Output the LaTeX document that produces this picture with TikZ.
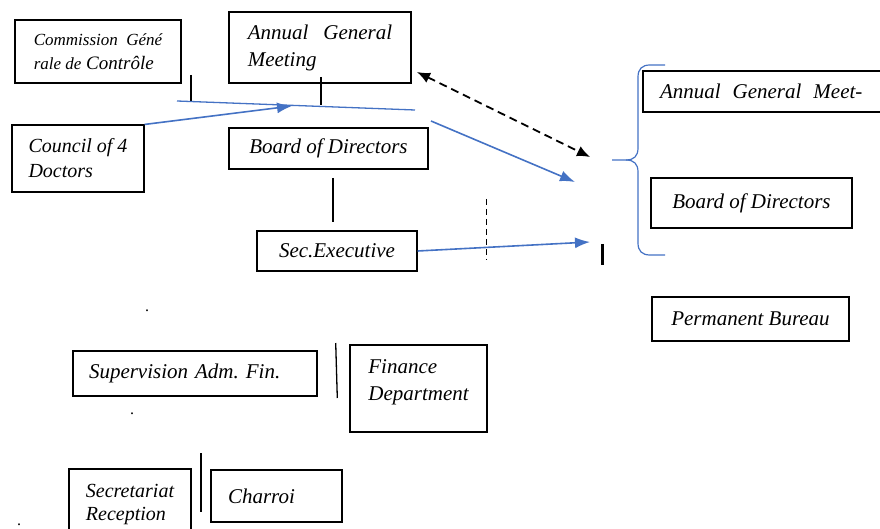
\documentclass[tikz,border=0pt]{standalone}
\usepackage{fontspec}
\setmainfont{Liberation Serif}
\usetikzlibrary{arrows.meta}

\definecolor{linkblue}{RGB}{68,114,196}

\begin{document}
\begin{tikzpicture}[
    x=1pt, y=-1pt,
    box/.style={rectangle, draw, line width=1.1pt, inner sep=0pt, align=left, font=\fontsize{21}{27}\selectfont\itshape},
    flow/.style={-{Latex[length=15pt, width=11pt]}, color=linkblue, line width=1.6pt},
    link/.style={linkblue, line width=1.3pt},
    rule/.style={line width=1.3pt},
    twoway/.style={{Latex[length=13pt, width=11pt]}-{Latex[length=13pt, width=11pt]}, line width=1.8pt, dash pattern=on 8pt off 5pt},
    speck/.style={font=\fontsize{16}{16}\selectfont, inner sep=0pt, anchor=base}
]
    \useasboundingbox (0,0) rectangle (880,529);

    \node[box, minimum width=166, minimum height=63, font=\fontsize{19}{24}\selectfont\itshape] (commission) at (98,51.5) {{\fontsize{17}{24}\selectfont Commission\ \ Géné}\\{\fontsize{17}{24}\selectfont rale de} Contrôle};
    \node[box, minimum width=182, minimum height=71] (agm) at (320,47.5) {Annual\hspace{15pt}General\\Meeting};
    \node[box, minimum width=132, minimum height=67, font=\fontsize{20}{25}\selectfont\itshape] (council) at (78,158.5) {Council of 4\\Doctors};
    \node[box, minimum width=199, minimum height=41] (board) at (328.5,148.5) {Board of Directors};
    \node[box, minimum width=160, minimum height=40] (secexec) at (337,251) {Sec.Executive};
    \node[box, minimum width=242, minimum height=41, inner xsep=17pt, text width=208pt] (agmright) at (764,91.5) {Annual\hspace{12pt}General\hspace{12pt}Meet-};
    \node[box, minimum width=201, minimum height=50] (boardright) at (751.5,203) {Board of Directors};
    \node[box, minimum width=197, minimum height=44] (bureau) at (750.5,319) {Permanent Bureau};
    \node[box, minimum width=244, minimum height=45, inner xsep=16pt, text width=212pt] (supervision) at (195,373.5) {Supervision Adm.\ Fin.};
    \node[box, minimum width=137, minimum height=87] (finance) at (418.5,388.5) {Finance\\Department\\[-10pt]};
    \node[box, minimum width=122, minimum height=71, font=\fontsize{20}{23}\selectfont\itshape] (secretariat) at (130,504.5) {Secretariat\\Reception};
    \node[box, minimum width=131, minimum height=52, inner xsep=17pt, text width=97pt] (charroi) at (276.5,496) {Charroi};

    \node[speck] (dotA) at (147,311) {.};
    \node[speck] (dotB) at (132,414) {.};
    \node[speck] (dotC) at (19,525) {.};

    \coordinate (comTop) at (191,75);
    \coordinate (comFoot) at (191,102);
    \coordinate (agmTop) at (321,77);
    \coordinate (agmFoot) at (321,105);
    \coordinate (linkL) at (177,101);
    \coordinate (linkR) at (415,110);
    \coordinate (councilHead) at (292,106);
    \coordinate (boardTop) at (333,178);
    \coordinate (boardFoot) at (333,222);
    \coordinate (dashA) at (417,72);
    \coordinate (dashB) at (590,157);
    \coordinate (flowA) at (431,121);
    \coordinate (flowB) at (575,182);
    \coordinate (secHead) at (590,242);
    \coordinate (cutTop) at (486,199);
    \coordinate (cutFoot) at (486,260);
    \coordinate (barTop) at (602,244);
    \coordinate (barFoot) at (602,265);
    \coordinate (braceTop) at (665,65);
    \coordinate (braceTip) at (612,160);
    \coordinate (braceBot) at (665,255);
    \coordinate (supTop) at (335.7,343);
    \coordinate (supFoot) at (337.3,398);
    \coordinate (secrTop) at (201,453);
    \coordinate (secrFoot) at (201,512);

    \draw[rule] (comTop) -- (comFoot);
    \draw[rule] (agmTop) -- (agmFoot);
    \draw[link] (linkL) -- (linkR);
    \draw[flow] (council.north east) -- (councilHead);
    \draw[rule] (boardTop) -- (boardFoot);
    \draw[twoway] (dashA) -- (dashB);
    \draw[flow] (flowA) -- (flowB);
    \draw[flow] (secexec.east) -- (secHead);
    \draw[line width=1pt, dash pattern=on 6pt off 4pt] (cutTop) -- (cutFoot);
    \draw[line width=3pt] (barTop) -- (barFoot);
    \draw[linkblue, line width=1.2pt] (braceTop) -- (650,65) .. controls (642,65) and (638,69) .. (638,77) -- (638,148)
        .. controls (638,156) and (634,160) .. (626,160) -- (braceTip);
    \draw[linkblue, line width=1.2pt] (braceBot) -- (650,255) .. controls (642,255) and (638,251) .. (638,243) -- (638,172)
        .. controls (638,164) and (634,160) .. (626,160);
    \draw[rule] (supTop) -- (supFoot);
    \draw[line width=2pt] (secrTop) -- (secrFoot);
\end{tikzpicture}
\end{document}
